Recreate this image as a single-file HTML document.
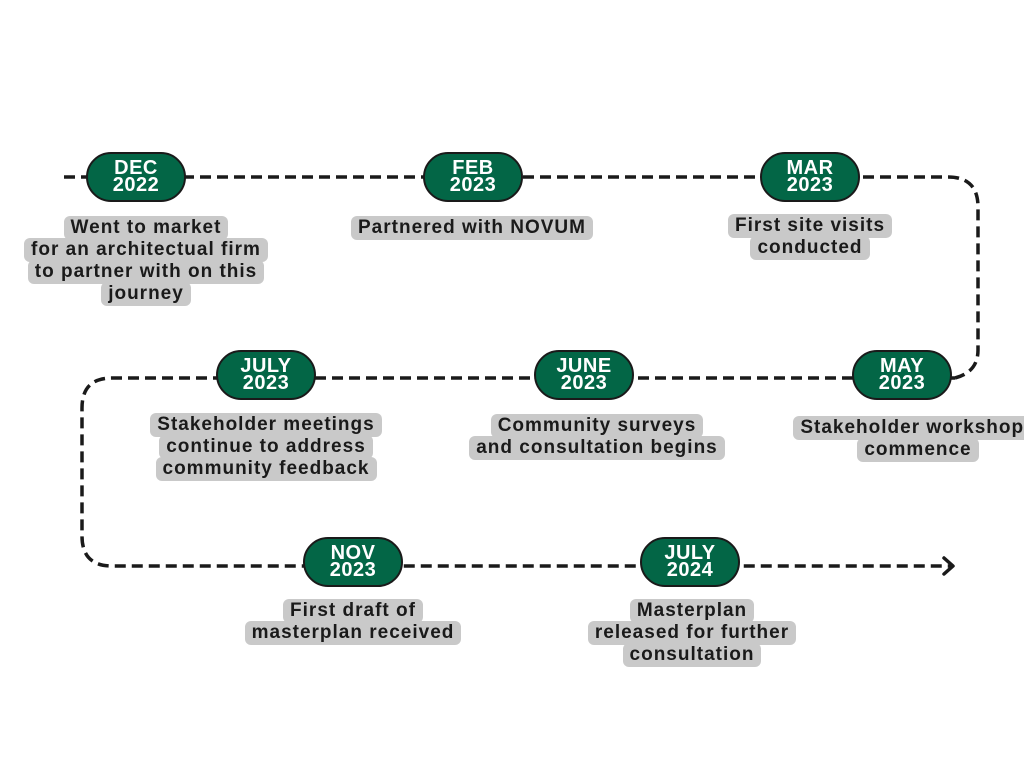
<!DOCTYPE html>
<html><head><meta charset="utf-8"><style>
body{margin:0;width:1024px;height:768px;background:#fff;position:relative;overflow:hidden;font-family:"Liberation Sans",sans-serif;}
svg{position:absolute;left:0;top:0}
.p{position:absolute;width:96px;height:46px;margin-left:-50px;margin-top:-25px;background:#036646;border:2px solid #1a1a1a;border-radius:25px;color:#fff;font-weight:bold;font-size:20px;line-height:17px;text-align:center;display:flex;flex-direction:column;justify-content:center;letter-spacing:0.5px}
.l{position:absolute;width:420px;margin-left:-210px;text-align:center;font-weight:bold;font-size:19px;letter-spacing:1px;color:#1a1a1a;line-height:22px}
.l span{background:#c9c9c9;border-radius:6px;padding:2px 7px;display:inline-block;white-space:nowrap;line-height:20px;margin:-1px 0}
</style></head><body>
<svg width="1024" height="768">
<path d="M64 177 H948 Q978 177 978 207 V350 Q978 372 955 378 M955 378 H112 Q82 378 82 408 V536 Q82 566 112 566 H952" fill="none" stroke="#1a1a1a" stroke-width="3.5" stroke-dasharray="11 6"/>
<path d="M944 558 L953 566 L944 574" fill="none" stroke="#1a1a1a" stroke-width="3.5" stroke-linecap="round" stroke-linejoin="round"/>
</svg>
<div class="p" style="left:136px;top:177px">DEC<br>2022</div>
<div class="p" style="left:473px;top:177px">FEB<br>2023</div>
<div class="p" style="left:810px;top:177px">MAR<br>2023</div>
<div class="p" style="left:266px;top:375px">JULY<br>2023</div>
<div class="p" style="left:584px;top:375px">JUNE<br>2023</div>
<div class="p" style="left:902px;top:375px">MAY<br>2023</div>
<div class="p" style="left:353px;top:562px">NOV<br>2023</div>
<div class="p" style="left:690px;top:562px">JULY<br>2024</div>

<div class="l" style="left:146px;top:217px"><span>Went to market</span><br><span>for an architectual firm</span><br><span>to partner with on this</span><br><span>journey</span></div>
<div class="l" style="left:472px;top:217px"><span>Partnered with NOVUM</span></div>
<div class="l" style="left:810px;top:215px"><span>First site visits</span><br><span>conducted</span></div>
<div class="l" style="left:266px;top:414px"><span>Stakeholder meetings</span><br><span>continue to address</span><br><span>community feedback</span></div>
<div class="l" style="left:597px;top:415px"><span>Community surveys</span><br><span>and consultation begins</span></div>
<div class="l" style="left:918px;top:417px"><span>Stakeholder workshops</span><br><span>commence</span></div>
<div class="l" style="left:353px;top:600px"><span>First draft of</span><br><span>masterplan received</span></div>
<div class="l" style="left:692px;top:600px"><span>Masterplan</span><br><span>released for further</span><br><span>consultation</span></div>
</body></html>
